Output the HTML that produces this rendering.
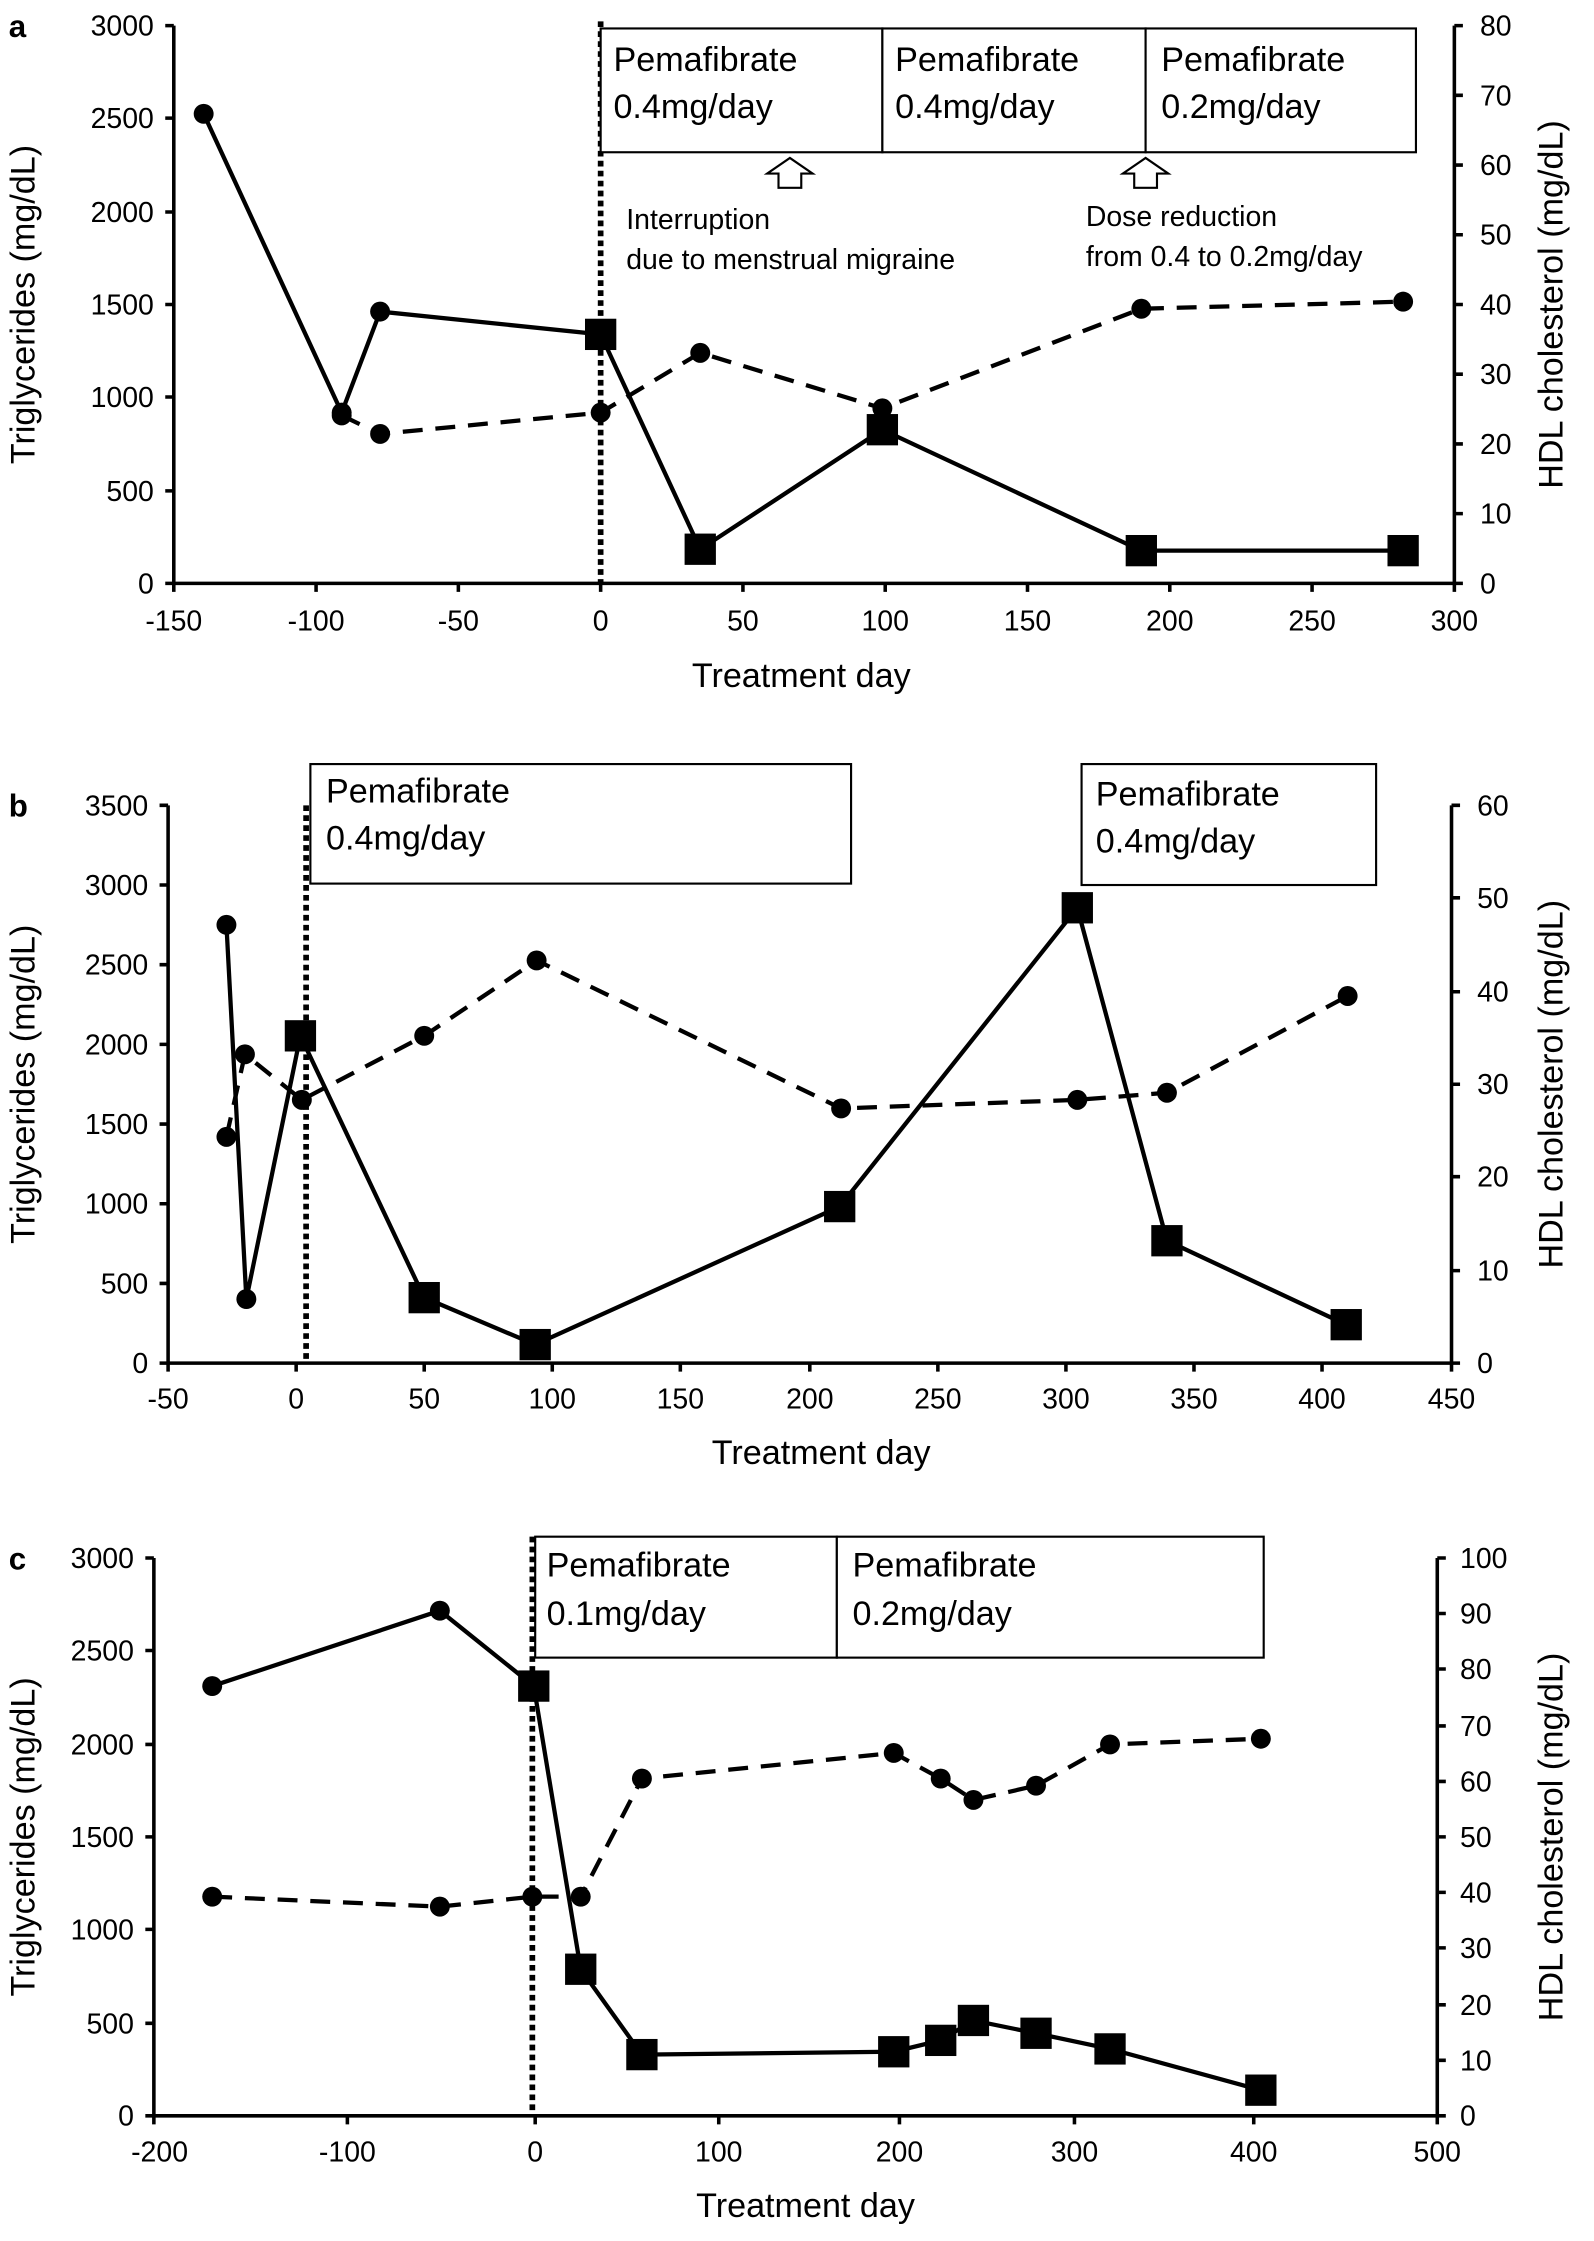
<!DOCTYPE html>
<html><head><meta charset="utf-8"><style>
html,body{margin:0;padding:0;background:#fff;}
svg{display:block;}
text{font-family:"Liberation Sans",Arial,sans-serif;fill:#000;}
.t{font-size:20px;}
.bx{font-size:24px;}
.lab{font-size:24px;}
.ax{stroke:#000;stroke-width:2.5;fill:none;}
.solid{stroke:#000;stroke-width:3;fill:none;}
.dash{stroke:#000;stroke-width:3;fill:none;stroke-dasharray:14,9;}
.dot{stroke:#000;stroke-width:4;fill:none;stroke-dasharray:4,3;}
.box{stroke:#000;stroke-width:1.5;fill:#fff;}
</style></head><body>
<svg width="1594" height="2241" viewBox="0 0 1120 1575" xmlns="http://www.w3.org/2000/svg">

<!-- ===== Panel a ===== -->
<text x="6" y="26" style="font-size:22px;font-weight:bold">a</text>
<path class="ax" d="M122,18 V410 H1022 V18"/>
<g class="ax">
<path d="M116,18H122M116,83H122M116,149H122M116,214H122M116,279H122M116,345H122M116,410H122"/>
<path d="M1022,18H1028M1022,67H1028M1022,116H1028M1022,165H1028M1022,214H1028M1022,263H1028M1022,312H1028M1022,361H1028M1022,410H1028"/>
<path d="M122,410V416M222,410V416M322,410V416M422,410V416M522,410V416M622,410V416M722,410V416M822,410V416M922,410V416M1022,410V416"/>
</g>
<g class="t" text-anchor="end">
<text x="108" y="25">3000</text><text x="108" y="90">2500</text><text x="108" y="156">2000</text><text x="108" y="221">1500</text><text x="108" y="286">1000</text><text x="108" y="352">500</text><text x="108" y="417">0</text>
</g>
<g class="t" text-anchor="start">
<text x="1040" y="25">80</text><text x="1040" y="74">70</text><text x="1040" y="123">60</text><text x="1040" y="172">50</text><text x="1040" y="221">40</text><text x="1040" y="270">30</text><text x="1040" y="319">20</text><text x="1040" y="368">10</text><text x="1040" y="417">0</text>
</g>
<g class="t" text-anchor="middle">
<text x="122" y="443">-150</text><text x="222" y="443">-100</text><text x="322" y="443">-50</text><text x="422" y="443">0</text><text x="522" y="443">50</text><text x="622" y="443">100</text><text x="722" y="443">150</text><text x="822" y="443">200</text><text x="922" y="443">250</text><text x="1022" y="443">300</text>
</g>
<text class="lab" x="563" y="483" text-anchor="middle">Treatment day</text>
<text class="lab" transform="translate(24,214) rotate(-90)" text-anchor="middle">Triglycerides (mg/dL)</text>
<text class="lab" transform="translate(1098,214) rotate(-90)" text-anchor="middle">HDL cholesterol (mg/dL)</text>
<path class="dot" d="M422,15V410"/>
<rect class="box" x="422" y="20" width="198" height="87"/>
<rect class="box" x="620" y="20" width="185" height="87"/>
<rect class="box" x="805" y="20" width="190" height="87"/>
<g class="bx">
<text x="431" y="50">Pemafibrate</text><text x="431" y="83">0.4mg/day</text>
<text x="629" y="50">Pemafibrate</text><text x="629" y="83">0.4mg/day</text>
<text x="816" y="50">Pemafibrate</text><text x="816" y="83">0.2mg/day</text>
</g>
<path d="M555,111 L571,122 L563,122 L563,132 L547,132 L547,122 L539,122 Z" fill="#fff" stroke="#000" stroke-width="1.5"/>
<path d="M805,111 L821,122 L813,122 L813,132 L797,132 L797,122 L789,122 Z" fill="#fff" stroke="#000" stroke-width="1.5"/>
<g class="t">
<text x="440" y="161">Interruption</text><text x="440" y="189">due to menstrual migraine</text>
<text x="763" y="159">Dose reduction</text><text x="763" y="187">from 0.4 to 0.2mg/day</text>
</g>
<path class="dash" d="M240,292 L267,305 L422,290 L492,248 L620,287 L802,217 L986,212"/>
<path class="solid" d="M143,80 L240,290 L267,219 L422,235 L492,386 L620,302 L802,387 L986,387"/>
<g fill="#000">
<circle cx="240" cy="292" r="7"/><circle cx="267" cy="305" r="7"/><circle cx="422" cy="290" r="7"/><circle cx="492" cy="248" r="7"/><circle cx="620" cy="287" r="7"/><circle cx="802" cy="217" r="7"/><circle cx="986" cy="212" r="7"/>
<circle cx="143" cy="80" r="7"/><circle cx="240" cy="290" r="7"/><circle cx="267" cy="219" r="7"/>
<rect x="411" y="224" width="22" height="22"/><rect x="481" y="375" width="22" height="22"/><rect x="609" y="291" width="22" height="22"/><rect x="791" y="376" width="22" height="22"/><rect x="975" y="376" width="22" height="22"/>
</g>

<!-- ===== Panel b ===== -->
<text x="6" y="574" style="font-size:22px;font-weight:bold">b</text>
<path class="ax" d="M118,566 V958 H1020 V566"/>
<g class="ax">
<path d="M112,566H118M112,622H118M112,678H118M112,734H118M112,790H118M112,846H118M112,902H118M112,958H118"/>
<path d="M1020,566H1026M1020,631H1026M1020,697H1026M1020,762H1026M1020,827H1026M1020,893H1026M1020,958H1026"/>
<path d="M118,958V964M208,958V964M298,958V964M388,958V964M478,958V964M569,958V964M659,958V964M749,958V964M839,958V964M929,958V964M1020,958V964"/>
</g>
<g class="t" text-anchor="end">
<text x="104" y="573">3500</text><text x="104" y="629">3000</text><text x="104" y="685">2500</text><text x="104" y="741">2000</text><text x="104" y="797">1500</text><text x="104" y="853">1000</text><text x="104" y="909">500</text><text x="104" y="965">0</text>
</g>
<g class="t">
<text x="1038" y="573">60</text><text x="1038" y="638">50</text><text x="1038" y="704">40</text><text x="1038" y="769">30</text><text x="1038" y="834">20</text><text x="1038" y="900">10</text><text x="1038" y="965">0</text>
</g>
<g class="t" text-anchor="middle">
<text x="118" y="990">-50</text><text x="208" y="990">0</text><text x="298" y="990">50</text><text x="388" y="990">100</text><text x="478" y="990">150</text><text x="569" y="990">200</text><text x="659" y="990">250</text><text x="749" y="990">300</text><text x="839" y="990">350</text><text x="929" y="990">400</text><text x="1020" y="990">450</text>
</g>
<text class="lab" x="577" y="1029" text-anchor="middle">Treatment day</text>
<text class="lab" transform="translate(24,762) rotate(-90)" text-anchor="middle">Triglycerides (mg/dL)</text>
<text class="lab" transform="translate(1098,762) rotate(-90)" text-anchor="middle">HDL cholesterol (mg/dL)</text>
<path class="dot" d="M215,566V958"/>
<rect class="box" x="218" y="537" width="380" height="84"/>
<rect class="box" x="760" y="537" width="207" height="85"/>
<g class="bx">
<text x="229" y="564">Pemafibrate</text><text x="229" y="597">0.4mg/day</text>
<text x="770" y="566">Pemafibrate</text><text x="770" y="599">0.4mg/day</text>
</g>
<path class="dash" d="M159,799 L172,741 L212,773 L298,728 L377,675 L591,779 L757,773 L820,768 L947,700"/>
<path class="solid" d="M159,650 L173,913 L211,728 L298,912 L376,945 L590,848 L757,638 L820,872 L946,931"/>
<g fill="#000">
<circle cx="159" cy="799" r="7"/><circle cx="172" cy="741" r="7"/><circle cx="212" cy="773" r="7"/><circle cx="298" cy="728" r="7"/><circle cx="377" cy="675" r="7"/><circle cx="591" cy="779" r="7"/><circle cx="757" cy="773" r="7"/><circle cx="820" cy="768" r="7"/><circle cx="947" cy="700" r="7"/>
<circle cx="159" cy="650" r="7"/><circle cx="173" cy="913" r="7"/>
<rect x="200" y="717" width="22" height="22"/><rect x="287" y="901" width="22" height="22"/><rect x="365" y="934" width="22" height="22"/><rect x="579" y="837" width="22" height="22"/><rect x="746" y="627" width="22" height="22"/><rect x="809" y="861" width="22" height="22"/><rect x="935" y="920" width="22" height="22"/>
</g>

<!-- ===== Panel c ===== -->
<text x="6" y="1103" style="font-size:22px;font-weight:bold">c</text>
<path class="ax" d="M108,1095 V1487 H1010 V1095"/>
<g class="ax">
<path d="M102,1095H108M102,1160H108M102,1226H108M102,1291H108M102,1356H108M102,1422H108M102,1487H108"/>
<path d="M1010,1095H1016M1010,1134H1016M1010,1173H1016M1010,1213H1016M1010,1252H1016M1010,1291H1016M1010,1330H1016M1010,1369H1016M1010,1409H1016M1010,1448H1016M1010,1487H1016"/>
<path d="M108,1487V1493M244,1487V1493M376,1487V1493M505,1487V1493M632,1487V1493M755,1487V1493M881,1487V1493M1010,1487V1493"/>
</g>
<g class="t" text-anchor="end">
<text x="94" y="1102">3000</text><text x="94" y="1167">2500</text><text x="94" y="1233">2000</text><text x="94" y="1298">1500</text><text x="94" y="1363">1000</text><text x="94" y="1429">500</text><text x="94" y="1494">0</text>
</g>
<g class="t">
<text x="1026" y="1102">100</text><text x="1026" y="1141">90</text><text x="1026" y="1180">80</text><text x="1026" y="1220">70</text><text x="1026" y="1259">60</text><text x="1026" y="1298">50</text><text x="1026" y="1337">40</text><text x="1026" y="1376">30</text><text x="1026" y="1416">20</text><text x="1026" y="1455">10</text><text x="1026" y="1494">0</text>
</g>
<g class="t" text-anchor="middle">
<text x="112" y="1519">-200</text><text x="244" y="1519">-100</text><text x="376" y="1519">0</text><text x="505" y="1519">100</text><text x="632" y="1519">200</text><text x="755" y="1519">300</text><text x="881" y="1519">400</text><text x="1010" y="1519">500</text>
</g>
<text class="lab" x="566" y="1558" text-anchor="middle">Treatment day</text>
<text class="lab" transform="translate(24,1291) rotate(-90)" text-anchor="middle">Triglycerides (mg/dL)</text>
<text class="lab" transform="translate(1098,1291) rotate(-90)" text-anchor="middle">HDL cholesterol (mg/dL)</text>
<path class="dot" d="M374,1080V1487"/>
<rect class="box" x="376" y="1080" width="212" height="85"/>
<rect class="box" x="588" y="1080" width="300" height="85"/>
<g class="bx">
<text x="384" y="1108">Pemafibrate</text><text x="384" y="1142">0.1mg/day</text>
<text x="599" y="1108">Pemafibrate</text><text x="599" y="1142">0.2mg/day</text>
</g>
<path class="dash" d="M149,1333 L309,1340 L374,1333 L408,1333 L451,1250 L628,1232 L661,1250 L684,1265 L728,1255 L780,1226 L886,1222"/>
<path class="solid" d="M149,1185 L309,1132 L375,1185 L408,1384 L451,1444 L628,1442 L661,1434 L684,1420 L728,1429 L780,1440 L886,1469"/>
<g fill="#000">
<circle cx="149" cy="1333" r="7"/><circle cx="309" cy="1340" r="7"/><circle cx="374" cy="1333" r="7"/><circle cx="408" cy="1333" r="7"/><circle cx="451" cy="1250" r="7"/><circle cx="628" cy="1232" r="7"/><circle cx="661" cy="1250" r="7"/><circle cx="684" cy="1265" r="7"/><circle cx="728" cy="1255" r="7"/><circle cx="780" cy="1226" r="7"/><circle cx="886" cy="1222" r="7"/>
<circle cx="149" cy="1185" r="7"/><circle cx="309" cy="1132" r="7"/>
<rect x="364" y="1174" width="22" height="22"/><rect x="397" y="1373" width="22" height="22"/><rect x="440" y="1433" width="22" height="22"/><rect x="617" y="1431" width="22" height="22"/><rect x="650" y="1423" width="22" height="22"/><rect x="673" y="1409" width="22" height="22"/><rect x="717" y="1418" width="22" height="22"/><rect x="769" y="1429" width="22" height="22"/><rect x="875" y="1458" width="22" height="22"/>
</g>
</svg>
</body></html>
